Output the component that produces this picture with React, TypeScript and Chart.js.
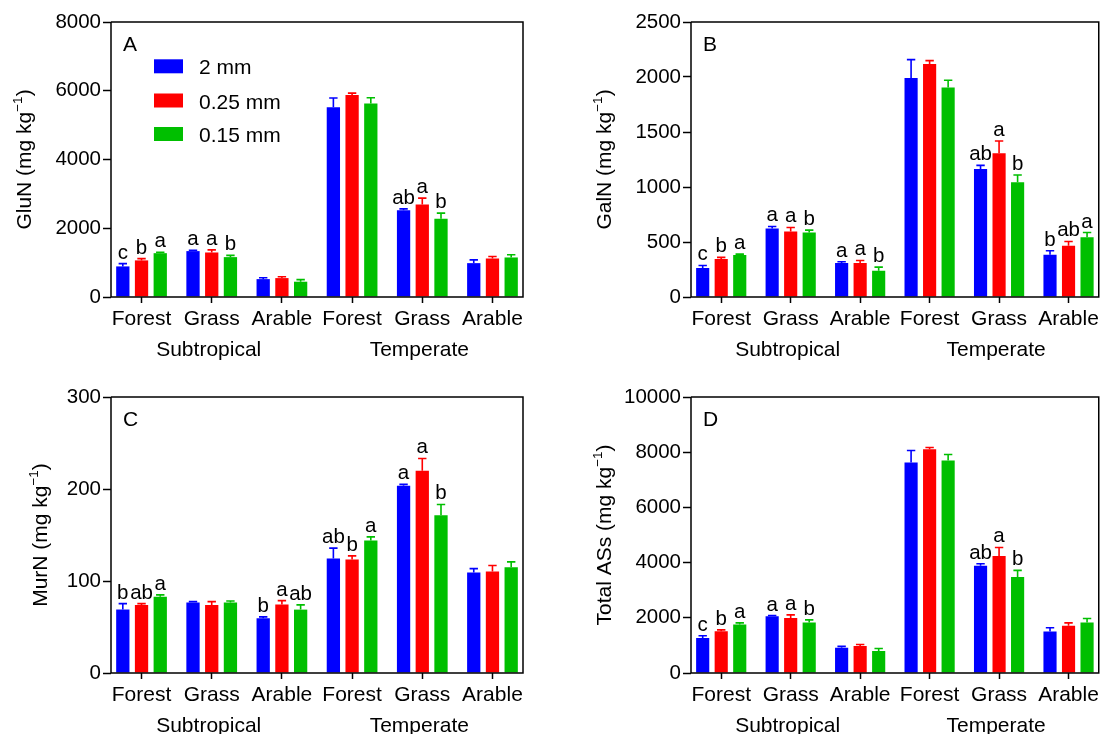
import React, { useEffect, useRef } from 'react';
import { Chart, registerables } from 'chart.js';

Chart.register(...registerables);

const FONT = "'Liberation Sans', Arial, Helvetica, sans-serif";

// ---------- data ----------
const CATEGORIES = ['Forest', 'Grass', 'Arable', 'Forest', 'Grass', 'Arable'];
const GROUPS = ['Subtropical', 'Temperate'];
const SERIES = ['2 mm', '0.25 mm', '0.15 mm'];
const COLORS = ['#0000FF', '#FF0000', '#00BF00'];

// A: GluN
const GLUN_2MM = [890, 1335, 520, 5520, 2525, 985];
const GLUN_025MM = [1065, 1295, 550, 5880, 2690, 1120];
const GLUN_015MM = [1275, 1160, 445, 5630, 2275, 1150];
const GLUN_ERR_2MM = [80, 25, 40, 270, 40, 95];
const GLUN_ERR_025MM = [50, 75, 40, 50, 185, 60];
const GLUN_ERR_015MM = [25, 50, 60, 165, 165, 80];
const GLUN_LET_2MM = ['c', 'a', '', '', 'ab', ''];
const GLUN_LET_025MM = ['b', 'a', '', '', 'a', ''];
const GLUN_LET_015MM = ['a', 'b', '', '', 'b', ''];

// B: GalN
const GALN_2MM = [263, 623, 308, 1992, 1164, 384];
const GALN_025MM = [345, 596, 308, 2119, 1306, 466];
const GALN_015MM = [381, 586, 239, 1905, 1043, 544];
const GALN_ERR_2MM = [24, 18, 12, 166, 33, 36];
const GALN_ERR_025MM = [15, 36, 24, 30, 112, 39];
const GALN_ERR_015MM = [9, 22, 33, 66, 66, 42];
const GALN_LET_2MM = ['c', 'a', 'a', '', 'ab', 'b'];
const GALN_LET_025MM = ['b', 'a', 'a', '', 'a', 'ab'];
const GALN_LET_015MM = ['a', 'b', 'b', '', 'b', 'a'];

// C: MurN
const MURN_2MM = [69, 76.5, 59.5, 124.4, 203.5, 109.2];
const MURN_025MM = [74, 74, 74.4, 123.3, 219.8, 110.3];
const MURN_015MM = [83, 76.5, 68.9, 144, 171.6, 115];
const MURN_ERR_2MM = [6.4, 1.1, 1.5, 11.3, 1.5, 4.3];
const MURN_ERR_025MM = [1.4, 3.6, 4.3, 4, 13.4, 6.5];
const MURN_ERR_015MM = [1.9, 1.8, 5.1, 4, 11.6, 5.8];
const MURN_LET_2MM = ['b', '', 'b', 'ab', 'a', ''];
const MURN_LET_025MM = ['ab', '', 'a', 'b', 'a', ''];
const MURN_LET_015MM = ['a', '', 'ab', 'a', 'b', ''];

// D: Total ASs
const TOTAL_2MM = [1264, 2058, 914, 7629, 3887, 1504];
const TOTAL_025MM = [1516, 1997, 975, 8111, 4236, 1709];
const TOTAL_015MM = [1757, 1829, 794, 7702, 3478, 1829];
const TOTAL_ERR_2MM = [84, 24, 49, 434, 72, 133];
const TOTAL_ERR_025MM = [48, 109, 60, 60, 313, 108];
const TOTAL_ERR_015MM = [60, 96, 96, 216, 240, 145];
const TOTAL_LET_2MM = ['c', 'a', '', '', 'ab', ''];
const TOTAL_LET_025MM = ['b', 'a', '', '', 'a', ''];
const TOTAL_LET_015MM = ['a', 'b', '', '', 'b', ''];

// ---------- panel layout ----------
type Panel = {
  key: string;
  title: string;
  canvas: { x: number; y: number; w: number; h: number };
  area: { l: number; r: number; t: number; b: number };
  yMax: number;
  yStep: number;
  titleDx: number;
  values: number[][];
  errors: number[][];
  letters: string[][];
  legend: boolean;
};

const PANELS: Panel[] = [
  {
    key: 'A', title: 'GluN',
    canvas: { x: 0, y: 0, w: 551, h: 372 },
    area: { l: 111, r: 523, t: 22, b: 297 },
    yMax: 8000, yStep: 2000, titleDx: -88,
    values: [GLUN_2MM, GLUN_025MM, GLUN_015MM],
    errors: [GLUN_ERR_2MM, GLUN_ERR_025MM, GLUN_ERR_015MM],
    letters: [GLUN_LET_2MM, GLUN_LET_025MM, GLUN_LET_015MM],
    legend: true,
  },
  {
    key: 'B', title: 'GalN',
    canvas: { x: 551, y: 0, w: 552, h: 372 },
    area: { l: 691, r: 1101.5, t: 22, b: 297 },
    yMax: 2500, yStep: 500, titleDx: -88,
    values: [GALN_2MM, GALN_025MM, GALN_015MM],
    errors: [GALN_ERR_2MM, GALN_ERR_025MM, GALN_ERR_015MM],
    letters: [GALN_LET_2MM, GALN_LET_025MM, GALN_LET_015MM],
    legend: false,
  },
  {
    key: 'C', title: 'MurN',
    canvas: { x: 0, y: 372, w: 551, h: 362 },
    area: { l: 111, r: 523, t: 397, b: 673 },
    yMax: 300, yStep: 100, titleDx: -72,
    values: [MURN_2MM, MURN_025MM, MURN_015MM],
    errors: [MURN_ERR_2MM, MURN_ERR_025MM, MURN_ERR_015MM],
    letters: [MURN_LET_2MM, MURN_LET_025MM, MURN_LET_015MM],
    legend: false,
  },
  {
    key: 'D', title: 'Total ASs',
    canvas: { x: 551, y: 372, w: 552, h: 362 },
    area: { l: 691, r: 1101.5, t: 397, b: 673 },
    yMax: 10000, yStep: 2000, titleDx: -88,
    values: [TOTAL_2MM, TOTAL_025MM, TOTAL_015MM],
    errors: [TOTAL_ERR_2MM, TOTAL_ERR_025MM, TOTAL_ERR_015MM],
    letters: [TOTAL_LET_2MM, TOTAL_LET_025MM, TOTAL_LET_015MM],
    legend: false,
  },
];

const X_PAD = 0.435;
const FS = 21;

function makeOverlay(p: Panel) {
  return {
    id: 'overlay' + p.key,
    afterDatasetsDraw(chart: any) {
      const ctx = chart.ctx as CanvasRenderingContext2D;
      const { left, right, top, bottom } = chart.chartArea;
      const ys = chart.scales.y;
      const xs = chart.scales.x;
      ctx.save();

      // error bars + letters
      chart.data.datasets.forEach((_ds: any, di: number) => {
        const meta = chart.getDatasetMeta(di);
        meta.data.forEach((bar: any, i: number) => {
          const v = p.values[di][i];
          const e = p.errors[di][i];
          const yv = ys.getPixelForValue(v);
          const ye = ys.getPixelForValue(v + e);
          ctx.strokeStyle = COLORS[di];
          ctx.lineWidth = 1.6;
          ctx.beginPath();
          ctx.moveTo(bar.x, yv);
          ctx.lineTo(bar.x, ye);
          ctx.moveTo(bar.x - 4.2, ye);
          ctx.lineTo(bar.x + 4.2, ye);
          ctx.stroke();
          const lab = p.letters[di][i];
          if (lab) {
            ctx.fillStyle = '#000';
            ctx.font = `20.5px ${FONT}`;
            ctx.textAlign = 'center';
            ctx.textBaseline = 'alphabetic';
            ctx.fillText(lab, bar.x, ye - 5);
          }
        });
      });

      // frame
      ctx.strokeStyle = '#000';
      ctx.lineWidth = 1.5;
      ctx.beginPath();
      ctx.moveTo(left, top);
      ctx.lineTo(right, top);
      ctx.lineTo(right, bottom);
      ctx.lineTo(left, bottom);
      ctx.lineTo(left, top);
      ctx.stroke();

      // panel letter
      ctx.fillStyle = '#000';
      ctx.font = `${FS}px ${FONT}`;
      ctx.textAlign = 'left';
      ctx.textBaseline = 'alphabetic';
      ctx.fillText(p.key, left + 12, top + 29);

      // legend
      if (p.legend) {
        const rows = [44.3, 78.5, 112];
        SERIES.forEach((s, si) => {
          const cy = top + rows[si];
          ctx.fillStyle = COLORS[si];
          ctx.fillRect(left + 43, cy - 7, 29, 14);
          ctx.fillStyle = '#000';
          ctx.font = `${FS}px ${FONT}`;
          ctx.textAlign = 'left';
          ctx.textBaseline = 'alphabetic';
          ctx.fillText(s, left + 88, cy + 8);
        });
      }

      // group labels
      ctx.fillStyle = '#000';
      ctx.font = `${FS}px ${FONT}`;
      ctx.textAlign = 'center';
      ctx.textBaseline = 'alphabetic';
      GROUPS.forEach((g, gi) => {
        const gx = xs.getPixelForValue(1 + gi * 3) - 3;
        ctx.fillText(g, gx, bottom + 59);
      });

      // y title with superscript
      ctx.save();
      const tx = left + p.titleDx;
      const ty = (top + bottom) / 2;
      ctx.translate(tx, ty);
      ctx.rotate(-Math.PI / 2);
      const main = `${p.title} (mg kg`;
      const sup = '\u22121';
      const end = ')';
      ctx.font = `${FS}px ${FONT}`;
      const w1 = ctx.measureText(main).width;
      const w3 = ctx.measureText(end).width;
      ctx.font = `13.5px ${FONT}`;
      const w2 = ctx.measureText(sup).width;
      let xx = -(w1 + w2 + w3) / 2;
      ctx.textAlign = 'left';
      ctx.textBaseline = 'alphabetic';
      ctx.fillStyle = '#000';
      ctx.font = `${FS}px ${FONT}`;
      ctx.fillText(main, xx, 7.5);
      xx += w1;
      ctx.font = `13.5px ${FONT}`;
      ctx.fillText(sup, xx, -1.5);
      xx += w2;
      ctx.font = `${FS}px ${FONT}`;
      ctx.fillText(end, xx, 7.5);
      ctx.restore();

      ctx.restore();
    },
  };
}

function PanelChart({ p }: { p: Panel }) {
  const ref = useRef<HTMLCanvasElement | null>(null);

  useEffect(() => {
    if (!ref.current) return;
    const c = p.canvas;
    const a = p.area;
    const chart = new Chart(ref.current, {
      type: 'bar',
      data: {
        datasets: SERIES.map((s, si) => ({
          label: s,
          data: p.values[si].map((v, i) => ({ x: i, y: v })),
          backgroundColor: COLORS[si],
          borderWidth: 0,
          categoryPercentage: 0.8,
          barPercentage: 0.71,
        })),
      },
      options: {
        responsive: false,
        animation: false,
        events: [],
        layout: {
          padding: { left: 0, right: c.x + c.w - a.r, top: a.t - c.y, bottom: 0 },
        },
        plugins: {
          legend: { display: false },
          tooltip: { enabled: false },
          title: { display: false },
        },
        scales: {
          x: {
            type: 'linear',
            min: -X_PAD,
            max: CATEGORIES.length - 1 + X_PAD,
            offset: false,
            afterBuildTicks: (scale: any) => {
              scale.ticks = CATEGORIES.map((_, i) => ({ value: i }));
            },
            afterFit: (scale: any) => {
              scale.height = c.y + c.h - a.b;
            },
            border: { display: false },
            grid: {
              display: true,
              drawOnChartArea: false,
              drawTicks: true,
              tickLength: 6,
              tickWidth: 1.5,
              tickColor: '#000',
              offset: false,
            },
            ticks: {
              autoSkip: false,
              maxRotation: 0,
              minRotation: 0,
              padding: 4,
              color: '#000',
              font: { family: FONT, size: FS },
              callback: (v: any) => CATEGORIES[Math.round(Number(v))] ?? '',
            },
          },
          y: {
            type: 'linear',
            min: 0,
            max: p.yMax,
            afterFit: (scale: any) => {
              scale.width = a.l - c.x;
            },
            border: { display: false },
            grid: {
              display: true,
              drawOnChartArea: false,
              drawTicks: true,
              tickLength: 8,
              tickWidth: 1.5,
              tickColor: '#000',
            },
            ticks: {
              stepSize: p.yStep,
              padding: 2,
              color: '#000',
              font: { family: FONT, size: 20.5 },
              callback: (v: any) => String(v),
            },
          },
        },
      } as any,
      plugins: [makeOverlay(p)],
    });
    return () => chart.destroy();
  }, [p]);

  return (
    <canvas
      ref={ref}
      width={p.canvas.w}
      height={p.canvas.h}
      style={{
        position: 'absolute',
        left: p.canvas.x,
        top: p.canvas.y,
        width: p.canvas.w,
        height: p.canvas.h,
      }}
    />
  );
}

export default function App() {
  return (
    <div
      style={{
        position: 'fixed',
        left: 0,
        top: 0,
        width: 1103,
        height: 734,
        background: '#fff',
        overflow: 'hidden',
      }}
    >
      {PANELS.map((p) => (
        <PanelChart key={p.key} p={p} />
      ))}
    </div>
  );
}
